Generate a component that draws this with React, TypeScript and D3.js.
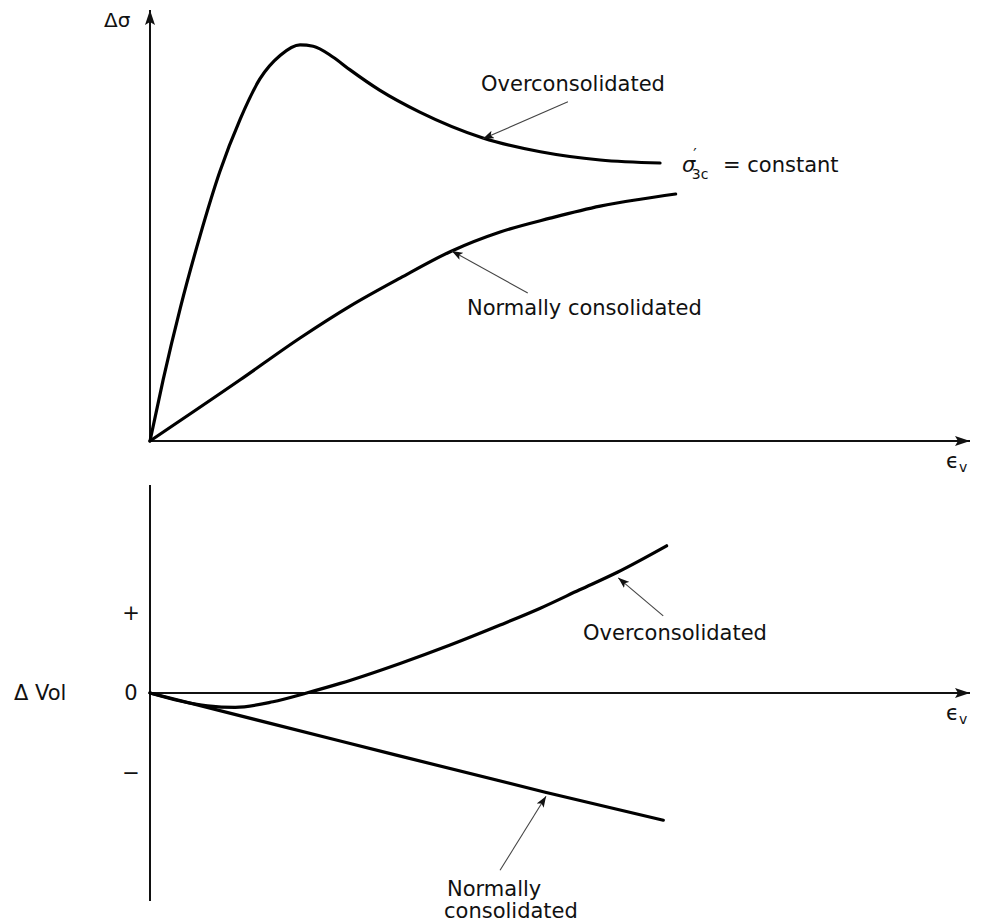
import React from 'react';
import * as d3 from 'd3';

// strain (arbitrary units) and deviator stress, upper panel
const ocStrain = [0, 0.16, 0.37, 0.61, 0.85, 1.1, 1.34, 1.59, 1.83, 1.99, 2.23, 2.44, 2.8, 3.29, 4.06, 4.76, 5.49, 6.22];
const ocStress = [0, 1.42, 3.09, 4.76, 6.24, 7.47, 8.4, 8.95, 9.19, 9.16, 8.91, 8.61, 8.14, 7.63, 7.03, 6.71, 6.52, 6.45];
const ncStrain = [0, 1.1, 1.83, 2.44, 3.05, 3.68, 4.27, 4.88, 5.49, 5.98, 6.41];
const ncStress = [0, 1.42, 2.39, 3.13, 3.78, 4.41, 4.85, 5.17, 5.45, 5.61, 5.73];

// strain and volume change, lower panel
const ocVolStrain = [0, 0.37, 0.7, 1.04, 1.5, 1.91, 2.32, 3.05, 3.66, 4.27, 4.76, 5.24, 5.7, 6.3];
const ocVol = [0, -0.1, -0.16, -0.18, -0.11, 0, 0.12, 0.37, 0.6, 0.85, 1.06, 1.29, 1.51, 1.84];
const ncVolStrain = [0, 2.32, 4.82, 6.26];
const ncVol = [0, -0.6, -1.24, -1.59];

const volTickLabels = ['+', '0', '\u2212'];
const volTickValues = [1, 0, -1];

const FONT = '"DejaVu Sans", sans-serif';

export default function App() {
  const width = 982;
  const height = 922;

  const x = d3.scaleLinear().domain([0, 10]).range([150, 970]);
  const yTop = d3.scaleLinear().domain([0, 10]).range([441, 10]);
  const yBot = d3.scaleLinear().domain([-2.6, 2.6]).range([901, 485]);

  const toPath = (xs: number[], ys: number[], yScale: d3.ScaleLinear<number, number>) =>
    d3
      .line<[number, number]>()
      .x((d) => x(d[0]))
      .y((d) => yScale(d[1]))
      .curve(d3.curveMonotoneX)(xs.map((v, i) => [v, ys[i]] as [number, number])) || '';

  const ocTop = toPath(ocStrain, ocStress, yTop);
  const ncTop = toPath(ncStrain, ncStress, yTop);
  const ocBot = toPath(ocVolStrain, ocVol, yBot);
  const ncBot = toPath(ncVolStrain, ncVol, yBot);

  // leader arrows: tip in data units, tail offset in px
  const leaders = [
    { tx: x(4.06), ty: yTop(7.01), dx: 85, dy: -37 },
    { tx: x(3.68), ty: yTop(4.41), dx: 76, dy: 42 },
    { tx: x(5.71), ty: yBot(1.44), dx: 45, dy: 38 },
    { tx: x(4.83), ty: yBot(-1.29), dx: -46, dy: 74 },
  ];

  const x0 = x(0);
  const xEnd = x(10);
  const yTop0 = yTop(0);
  const yBot0 = yBot(0);

  return (
    <svg
      width={width}
      height={height}
      style={{ position: 'absolute', left: 0, top: 0, background: '#fff' }}
      fontFamily={FONT}
    >
      <defs>
        <marker
          id="lead"
          markerUnits="userSpaceOnUse"
          markerWidth={11}
          markerHeight={8}
          refX={11}
          refY={4}
          orient="auto"
        >
          <path d="M0,0 L11,4 L0,8 L2.5,4 z" fill="#111" />
        </marker>
        <marker
          id="axis"
          markerUnits="userSpaceOnUse"
          markerWidth={15}
          markerHeight={10}
          refX={15}
          refY={5}
          orient="auto"
        >
          <path d="M0,0 L15,5 L0,10 L3,5 z" fill="#111" />
        </marker>
      </defs>

      {/* upper panel axes */}
      <line x1={x0} y1={yTop0} x2={x0} y2={yTop(10)} stroke="#111" strokeWidth={2} markerEnd="url(#axis)" />
      <line x1={x0} y1={yTop0} x2={xEnd} y2={yTop0} stroke="#111" strokeWidth={2} markerEnd="url(#axis)" />
      <text x={104} y={27} fontSize={20} fill="#111">
        Δσ
      </text>
      <text x={946} y={468} fontSize={21} fill="#111">
        ϵ<tspan fontSize={14} dy={4}>v</tspan>
      </text>

      {/* upper panel curves */}
      <path d={ocTop} fill="none" stroke="#000" strokeWidth={3.2} strokeLinecap="round" />
      <path d={ncTop} fill="none" stroke="#000" strokeWidth={3.2} strokeLinecap="round" />

      <text x={481} y={91} fontSize={21} fill="#111">
        Overconsolidated
      </text>
      <text x={682} y={172} fontSize={21} fill="#111">
        <tspan fontStyle="italic">σ</tspan>
        <tspan fontSize={15} dx={-2} dy={-12}>
          ′
        </tspan>
        <tspan fontSize={14} dx={-5} dy={19}>
          3c
        </tspan>
      </text>
      <text x={723} y={172} fontSize={21} fill="#111">
        = constant
      </text>
      <text x={467} y={315} fontSize={21} fill="#111">
        Normally consolidated
      </text>

      {/* lower panel axes */}
      <line x1={x0} y1={yBot(2.6)} x2={x0} y2={yBot(-2.6)} stroke="#111" strokeWidth={2} />
      <line x1={x0} y1={yBot0} x2={xEnd} y2={yBot0} stroke="#111" strokeWidth={2} markerEnd="url(#axis)" />
      {volTickValues.map((v, i) => (
        <text
          key={i}
          x={131}
          y={yBot(v)}
          fontSize={21}
          textAnchor="middle"
          dominantBaseline="central"
          fill="#111"
        >
          {volTickLabels[i]}
        </text>
      ))}
      <text x={14} y={yBot0} fontSize={21} dominantBaseline="central" fill="#111">
        Δ Vol
      </text>
      <text x={946} y={720} fontSize={21} fill="#111">
        ϵ<tspan fontSize={14} dy={4}>v</tspan>
      </text>

      {/* lower panel curves */}
      <path d={ocBot} fill="none" stroke="#000" strokeWidth={3.2} strokeLinecap="round" />
      <path d={ncBot} fill="none" stroke="#000" strokeWidth={3.2} strokeLinecap="round" />

      <text x={583} y={640} fontSize={21} fill="#111">
        Overconsolidated
      </text>
      <text x={447} y={896} fontSize={21} fill="#111">
        Normally
      </text>
      <text x={444} y={918} fontSize={21} fill="#111">
        consolidated
      </text>

      {/* leader arrows */}
      {leaders.map((l, i) => (
        <line
          key={i}
          x1={l.tx + l.dx}
          y1={l.ty + l.dy}
          x2={l.tx}
          y2={l.ty}
          stroke="#444"
          strokeWidth={1.1}
          markerEnd="url(#lead)"
        />
      ))}
    </svg>
  );
}
